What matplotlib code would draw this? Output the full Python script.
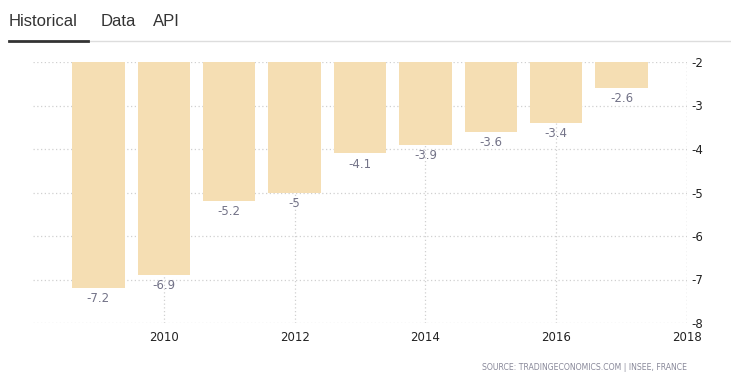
import matplotlib
matplotlib.use("Agg")
import matplotlib.pyplot as plt

plt.rcParams["axes.unicode_minus"] = False

years = [2009, 2010, 2011, 2012, 2013, 2014, 2015, 2016, 2017]
values = [-7.2, -6.9, -5.2, -5.0, -4.1, -3.9, -3.6, -3.4, -2.6]
labels = ["-7.2", "-6.9", "-5.2", "-5", "-4.1", "-3.9", "-3.6", "-3.4", "-2.6"]
xticks = [2010, 2012, 2014, 2016, 2018]
yticks = [-2, -3, -4, -5, -6, -7, -8]

fig = plt.figure(figsize=(7.31, 3.84), dpi=100)
ax = fig.add_axes([33 / 731, 1 - 323 / 384, 654 / 731, 261 / 384])

base = -2
ax.bar(years, [v - base for v in values], bottom=base, width=0.8,
       color="#f5deb3", zorder=2)
for x, v, t in zip(years, values, labels):
    ax.annotate(t, (x, v), xytext=(0, -3), textcoords="offset points",
                ha="center", va="top", fontsize=8.5, color="#737388",
                family="DejaVu Sans", zorder=3)

ax.set_xlim(2008, 2018)
ax.set_ylim(-8, -2)
ax.set_xticks(xticks)
ax.set_yticks(yticks)
ax.yaxis.tick_right()
ax.tick_params(axis="both", length=0, labelsize=8.5, colors="#222222")
ax.tick_params(axis="y", pad=3)
ax.tick_params(axis="x", pad=6)
ax.grid(True, linestyle=(0, (1, 2)), color="#d0d0d0", linewidth=0.9, zorder=0)
for side in ["top", "left", "bottom", "right"]:
    ax.spines[side].set_visible(False)
ax.axvline(2018, linestyle=(0, (1, 2)), color="#d0d0d0", linewidth=0.9)

# header tabs
fig.text(9 / 731, 1 - 21 / 384, "Historical", fontsize=12, color="#333333",
         family="Liberation Sans", va="center")
fig.text(101 / 731, 1 - 21 / 384, "Data", fontsize=12, color="#333333",
         family="Liberation Sans", va="center")
fig.text(153 / 731, 1 - 21 / 384, "API", fontsize=12, color="#333333",
         family="Liberation Sans", va="center")
fig.add_artist(plt.Line2D([88 / 731, 1], [1 - 41 / 384] * 2, color="#dddddd",
                          linewidth=1))
fig.add_artist(plt.Line2D([9 / 731, 88 / 731], [1 - 40.5 / 384] * 2,
                          color="#333333", linewidth=2))

fig.text(687 / 731, 1 - 368 / 384,
         "SOURCE: TRADINGECONOMICS.COM | INSEE, FRANCE",
         fontsize=5.6, color="#888899", ha="right", va="center")

fig.savefig("out.png", dpi=100)
